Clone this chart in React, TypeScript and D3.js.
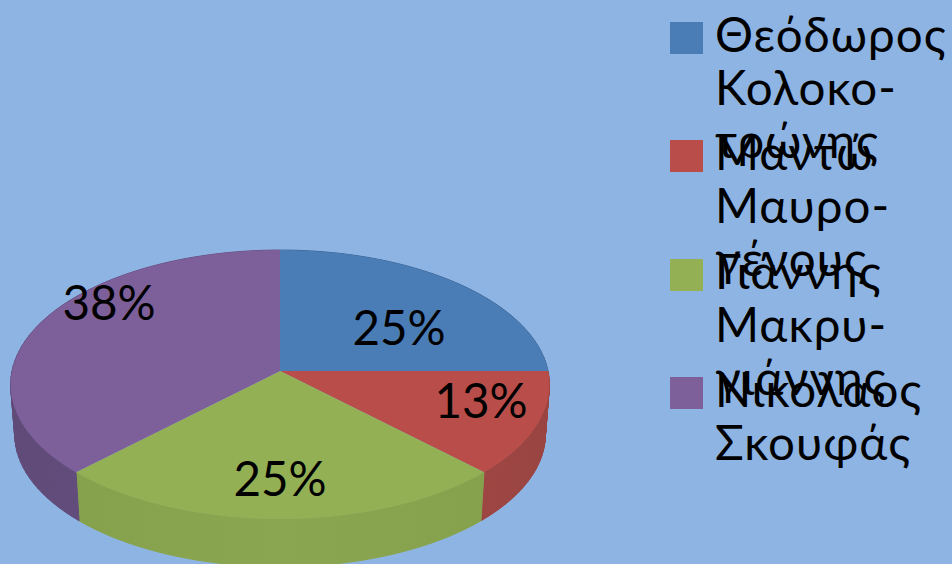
import React from "react";
import * as d3 from "d3";

const categories = ["Θεόδωρος Κολοκοτρώνης", "Μαντώ Μαυρογένους", "Γιάννης Μακρυγιάννης", "Νικόλαος Σκουφάς"];
const legendLines = [
  ["Θεόδωρος", "Κολοκο-", "τρώνης"],
  ["Μαντώ", "Μαυρο-", "γένους"],
  ["Γιάννης", "Μακρυ-", "γιάννης"],
  ["Νικόλαος", "Σκουφάς"],
];
const values = [2, 1, 2, 3];
const percentLabels = ["25%", "13%", "25%", "38%"];
const topColors = ["#4a7cb6", "#b94d49", "#94b055", "#7d5f9a"];
const sideDark = ["#3c6594", "#9a4441", "#84a04c", "#5f4a78"];
const sideLight = ["#3c6594", "#a54a46", "#8aa650", "#6a5284"];
const labelPos: [number, number][] = [[399, 328], [481, 401], [280, 479], [109, 303]];
const legendY = [22, 140, 259, 377];
const legendBase = [52, 170, 289, 407];

const FONT = "Lato, 'Open Sans', sans-serif";
const W = 952, H = 564;
const cx = 280, cy = 371, R = 268, K = 133.1, P = 0.1004;

function project(a: number, scale = 1, dy = 0): [number, number] {
  const s = 1 / (1 + P * Math.cos(a));
  return [cx + R * scale * Math.sin(a) * s, cy + dy + (-K * scale * Math.cos(a) * s)];
}

function arcPoints(a0: number, a1: number, scale = 1, dy = 0): [number, number][] {
  return d3.range(0, 61).map((i) => project(a0 + ((a1 - a0) * i) / 60, scale, dy));
}

export default function App() {
  const arcs = d3.pie<number>().sort(null)(values);
  const line = d3.line();
  return (
    <svg width={W} height={H} style={{ position: "fixed", left: 0, top: 0, display: "block" }} viewBox={`0 0 ${W} ${H}`}>
      <defs>
        {arcs.map((_, i) => (
          <linearGradient key={i} id={`side${i}`} gradientUnits="userSpaceOnUse" x1={10} x2={550} y1={0} y2={0}>
            <stop offset="0" stopColor={sideDark[i]} />
            <stop offset="0.5" stopColor={sideLight[i]} />
            <stop offset="1" stopColor={sideDark[i]} />
          </linearGradient>
        ))}
      </defs>
      <rect x={0} y={0} width={W} height={H} fill="#8eb4e3" />
      {arcs.map((d, i) => {
        const top = arcPoints(d.startAngle, d.endAngle);
        const bottom = arcPoints(d.startAngle, d.endAngle, 0.985, 50);
        return (
          <g key={i} fill={`url(#side${i})`} stroke={`url(#side${i})`} strokeWidth={1}>
            {top.slice(1).map((p, j) => (
              <path key={j} d={line([top[j], p, bottom[j + 1], bottom[j]]) + "Z"} />
            ))}
          </g>
        );
      })}
      {arcs.map((d, i) => {
        const pts: [number, number][] = [[cx, cy], ...arcPoints(d.startAngle, d.endAngle)];
        return <path key={i} d={line(pts) + "Z"} fill={topColors[i]} />;
      })}
      {arcs.map((d, i) => (
        <text key={i} x={labelPos[i][0]} y={labelPos[i][1] + 17} textAnchor="middle" fontFamily={FONT} fontSize={47.5} fill="#000">
          {percentLabels[i]}
        </text>
      ))}
      {categories.map((c, i) => (
        <g key={c}>
          <rect x={670} y={legendY[i]} width={33} height={32} fill={topColors[i]} />
          {legendLines[i].map((t, j) => (
            <text key={j} x={715} y={legendBase[i] + j * 53} fontFamily={FONT} fontSize={47.5} letterSpacing={1} fill="#000">
              {t}
            </text>
          ))}
        </g>
      ))}
    </svg>
  );
}
